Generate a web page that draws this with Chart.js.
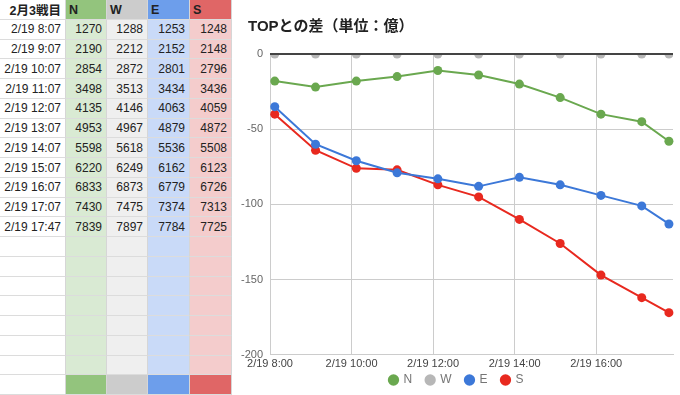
<!DOCTYPE html>
<html>
<head>
<meta charset="utf-8">
<script src="https://cdn.jsdelivr.net/npm/chart.js@4/dist/chart.umd.min.js"></script>
<style>
  html, body { margin: 0; padding: 0; background: #fff; }
  body { width: 680px; height: 395px; position: relative; overflow: hidden;
         font-family: "Liberation Sans", Arial, "Noto Sans CJK JP", sans-serif; }
  #sheet { position: absolute; left: 0; top: 0; width: 232px; height: 395px;
           display: grid; grid-template-columns: 66px 41px 41px 42px 42px;
           grid-template-rows: repeat(20, 1fr); }
  .cell { box-sizing: border-box; border-bottom: 1px solid #dcdcdc; border-right: 1px solid #d6d6d6;
          display: flex; align-items: center; justify-content: flex-end; white-space: nowrap;
          padding-right: 4px; font-size: 12px; color: #222; }
  .head { font-weight: bold; font-size: 12.5px; }
  .head.team { justify-content: flex-start; padding-left: 3px; }
  #chartTitle { position: absolute; left: 248px; top: 14px; font-size: 15px; font-weight: bold;
                color: #222; font-family: "Liberation Sans", "Noto Sans CJK JP", sans-serif; }
  #chartBox { position: absolute; left: 240px; top: 0; width: 440px; height: 395px; }
</style>
</head>
<body>
<div id="sheet"></div>
<div id="chartBox"><canvas id="diffChart"></canvas></div>
<div id="chartTitle">TOPとの差（単位：億）</div>
<script>
// ===== table data (values from the sheet) =====
const sheetTitle = '2月3戦目';
const dateLabel = '2/19';
const times = ['8:07', '9:07', '10:07', '11:07', '12:07', '13:07', '14:07', '15:07', '16:07', '17:07', '17:47'];
const teams = ['N', 'W', 'E', 'S'];
const totalN = [1270, 2190, 2854, 3498, 4135, 4953, 5598, 6220, 6833, 7430, 7839];
const totalW = [1288, 2212, 2872, 3513, 4146, 4967, 5618, 6249, 6873, 7475, 7897];
const totalE = [1253, 2152, 2801, 3434, 4063, 4879, 5536, 6162, 6779, 7374, 7784];
const totalS = [1248, 2148, 2796, 3436, 4059, 4872, 5508, 6123, 6726, 7313, 7725];

// ===== chart data: difference from TOP (unit: 億) =====
const diffN = [-18, -22, -18, -15, -11, -14, -20, -29, -40, -45, -58];
const diffW = [0, 0, 0, 0, 0, 0, 0, 0, 0, 0, 0];
const diffE = [-35, -60, -71, -79, -83, -88, -82, -87, -94, -101, -113];
const diffS = [-40, -64, -76, -77, -87, -95, -110, -126, -147, -162, -172];
const tickHours = [8, 10, 12, 14, 16];
const yTicks = [0, -50, -100, -150, -200];

const headColors = ['#93c47d', '#cccccc', '#6d9eeb', '#e06666'];
const bodyColors = ['#d9ead3', '#efefef', '#c9daf8', '#f4cccc'];
const lineColors = ['#6aa84f', '#b7b7b7', '#3c78d8', '#e8291f'];

// Build the spreadsheet part
function buildSheet() {
    const sheet = document.getElementById('sheet');
    const totals = [totalN, totalW, totalE, totalS];
    const emptyRows = 7;
    const addCell = (text, cls, bg) => {
        const d = document.createElement('div');
        d.className = 'cell' + (cls ? ' ' + cls : '');
        d.textContent = text;
        if (bg) d.style.background = bg;
        sheet.appendChild(d);
    };

    addCell(sheetTitle, 'head');
    teams.forEach((t, i) => addCell(t, 'head team', headColors[i]));

    times.forEach((t, r) => {
        addCell(dateLabel + ' ' + t);
        totals.forEach((col, i) => addCell(col[r], '', bodyColors[i]));
    });

    for (let r = 0; r < emptyRows; r++) {
        addCell('');
        teams.forEach((t, i) => addCell('', '', bodyColors[i]));
    }

    addCell('');
    teams.forEach((t, i) => addCell('', '', headColors[i]));
}

const toMinutes = (s) => {
    const [h, m] = s.split(':').map(Number);
    return h * 60 + m;
};

// Redraw the zero line on top of the points
const zeroLine = {
    id: 'zeroLine',
    afterDatasetsDraw(chart) {
        const { ctx, chartArea, scales } = chart;
        const y = scales.y.getPixelForValue(0);
        ctx.save();
        ctx.strokeStyle = '#444';
        ctx.lineWidth = 2;
        ctx.beginPath();
        ctx.moveTo(chartArea.left, y);
        ctx.lineTo(chartArea.right, y);
        ctx.stroke();
        ctx.restore();
    }
};

// Legend keeps wide item spacing but sits closer to the axis labels
const legendNudge = {
    id: 'legendNudge',
    afterLayout(chart) {
        chart.legend.top -= 14;
        chart.legend.bottom = chart.height;
    }
};

function buildChart() {
    const xs = times.map(toMinutes);
    const series = [diffN, diffW, diffE, diffS];

    const datasets = teams.map((t, i) => ({
        label: t,
        data: series[i].map((v, k) => ({ x: xs[k], y: v })),
        borderColor: lineColors[i],
        backgroundColor: lineColors[i],
        pointBackgroundColor: lineColors[i],
        pointBorderWidth: 0,
        pointRadius: 4.5,
        pointHoverRadius: 4.5,
        borderWidth: 2,
        showLine: t !== 'W',
        clip: t === 'W' ? 0 : 8
    }));

    new Chart(document.getElementById('diffChart'), {
        type: 'line',
        data: { datasets },
        options: {
            responsive: true,
            maintainAspectRatio: false,
            animation: false,
            layout: { padding: { left: 0, right: 7, top: 54, bottom: 0 } },
            plugins: {
                title: { display: false },
                legend: {
                    position: 'bottom',
                    maxHeight: 21,
                    labels: {
                        usePointStyle: true,
                        pointStyle: 'circle',
                        boxWidth: 8,
                        boxHeight: 8,
                        color: '#757575',
                        padding: 14,
                        font: { size: 12, family: '"Liberation Sans", sans-serif' }
                    }
                },
                tooltip: { enabled: false }
            },
            scales: {
                x: {
                    type: 'linear',
                    min: 8 * 60,
                    max: 17 * 60 + 53,
                    afterBuildTicks: (scale) => {
                        scale.ticks = tickHours.map(h => ({ value: h * 60 }));
                    },
                    ticks: {
                        callback: (v) => dateLabel + ' ' + (v / 60) + ':00',
                        color: '#444',
                        maxRotation: 0,
                        autoSkip: false,
                        padding: 3,
                        font: { size: 11, family: '"Liberation Sans", sans-serif' }
                    },
                    grid: { color: '#cccccc', drawTicks: false },
                    border: { color: '#cccccc' }
                },
                y: {
                    min: -200,
                    max: 0,
                    afterBuildTicks: (scale) => {
                        scale.ticks = yTicks.map(v => ({ value: v }));
                    },
                    afterFit: (scale) => { scale.width = 30; },
                    ticks: {
                        color: '#666',
                        padding: 7,
                        font: { size: 11, family: '"Liberation Sans", sans-serif' }
                    },
                    grid: { color: '#cccccc', drawTicks: false },
                    border: { color: '#cccccc' }
                }
            }
        },
        plugins: [zeroLine, legendNudge]
    });
}

buildSheet();
buildChart();
</script>
</body>
</html>
